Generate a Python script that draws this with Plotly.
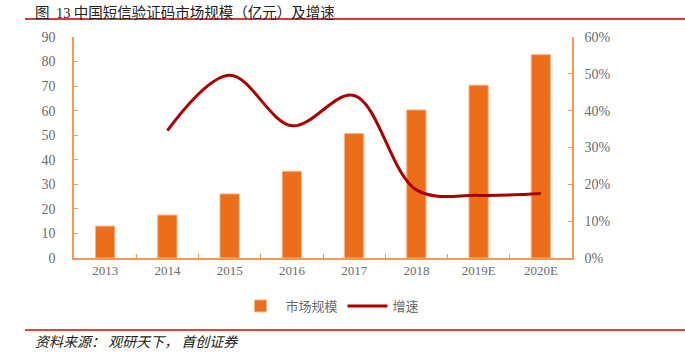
import plotly.graph_objects as go

categories = ["2013", "2014", "2015", "2016", "2017", "2018", "2019E", "2020E"]
market_size = [13.0, 17.5, 26.1, 35.3, 50.7, 60.3, 70.4, 82.8]
growth_cats = ["2014", "2015", "2016", "2017", "2018", "2019E", "2020E"]
growth = [0.346, 0.496, 0.359, 0.441, 0.185, 0.170, 0.175]
left_ticks = list(range(0, 91, 10))
right_ticks = [0, 0.1, 0.2, 0.3, 0.4, 0.5, 0.6]

BAR = "#EC6E1A"
LINE = "#A80000"
AXIS = "#F29A55"
TXT = "#6b6b6b"
SERIF = "Liberation Serif, Times New Roman, serif"
CJK = "Noto Sans CJK SC, sans-serif"

fig = go.Figure()
fig.add_trace(go.Bar(
    x=categories, y=market_size, name="市场规模",
    marker=dict(color=BAR, line=dict(color="#F7B58A", width=1)),
    width=0.31,
))
fig.add_trace(go.Scatter(
    x=growth_cats, y=growth, name="增速", yaxis="y2",
    mode="lines", line=dict(color=LINE, width=3, shape="spline", smoothing=1.0),
))

fig.update_layout(
    width=685, height=361,
    margin=dict(l=74, r=113, t=37, b=103),
    paper_bgcolor="white", plot_bgcolor="white",
    showlegend=True,
    legend=dict(orientation="h", x=0.514, xanchor="center", y=-0.217, yanchor="middle",
                font=dict(family=CJK, size=13, color=TXT), itemwidth=40,
                traceorder="normal"),
    xaxis=dict(
        type="category", range=[-0.5, 7.5], showline=True, linecolor=AXIS, linewidth=1.5,
        ticks="inside", tickson="boundaries", ticklen=4, tickcolor=AXIS,
        tickfont=dict(family=SERIF, size=13, color=TXT), showgrid=False, zeroline=False,
    ),
    yaxis=dict(
        range=[0, 90], tickvals=left_ticks, showline=True, linecolor=AXIS, linewidth=1.5,
        ticks="inside", ticklen=4, tickcolor=AXIS, showgrid=False, zeroline=False,
        tickfont=dict(family=SERIF, size=14, color=TXT), ticklabelstandoff=14,
    ),
    yaxis2=dict(
        range=[0, 0.6], tickvals=right_ticks, tickformat=".0%", overlaying="y", side="right",
        showline=True, linecolor=AXIS, linewidth=1.5, ticks="inside", ticklen=4, tickcolor=AXIS,
        showgrid=False, zeroline=False, tickfont=dict(family=SERIF, size=14, color=TXT),
        ticklabelstandoff=8,
    ),
    annotations=[
        dict(text="图  <span style='font-family:Liberation Serif'>13</span> 中国短信验证码市场规模（亿元）及增速",
             xref="paper", yref="paper",
             x=-0.082, y=1.1176, xanchor="left", yanchor="middle", showarrow=False,
             font=dict(family=CJK, size=14.5, color="#222222")),
        dict(text="<i>资料来源： 观研天下， 首创证券</i>", xref="paper", yref="paper",
             x=-0.082, y=-0.3756, xanchor="left", yanchor="middle", showarrow=False,
             font=dict(family=CJK, size=14, color="#222222")),
    ],
    shapes=[
        dict(type="line", xref="paper", yref="paper", x0=-0.0984, x1=1.227, y0=1.081, y1=1.081,
             line=dict(color="#C00000", width=1.5)),
        dict(type="line", xref="paper", yref="paper", x0=-0.0984, x1=1.227, y0=-0.326, y1=-0.326,
             line=dict(color="#E00000", width=1.5)),
    ],
)

fig.write_html("out.html", config={"displayModeBar": False},
               post_script="document.body.style.margin='0';")
